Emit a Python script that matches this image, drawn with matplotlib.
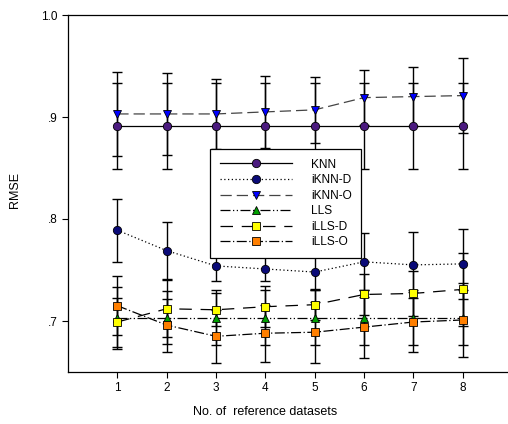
import matplotlib
matplotlib.use("Agg")
import matplotlib.pyplot as plt

plt.rcParams['font.family'] = ['Liberation Sans', 'DejaVu Sans']

x = [1, 2, 3, 4, 5, 6, 7, 8]
labels = ["KNN", "iKNN-D", "iKNN-O", "LLS", "iLLS-D", "iLLS-O"]

knn = [0.891, 0.891, 0.891, 0.891, 0.891, 0.891, 0.891, 0.891]
knn_err = [0.042, 0.042, 0.042, 0.042, 0.042, 0.042, 0.042, 0.042]
iknn_d = [0.789, 0.769, 0.754, 0.751, 0.748, 0.758, 0.755, 0.756]
iknn_d_err = [0.031, 0.028, 0.015, 0.012, 0.018, 0.028, 0.032, 0.034]
iknn_o = [0.903, 0.903, 0.903, 0.905, 0.907, 0.919, 0.920, 0.921]
iknn_o_err = [0.041, 0.040, 0.034, 0.035, 0.032, 0.027, 0.029, 0.037]
lls = [0.703, 0.703, 0.703, 0.703, 0.703, 0.703, 0.703, 0.703]
lls_err = [0.030, 0.026, 0.027, 0.027, 0.027, 0.027, 0.027, 0.027]
ills_d = [0.699, 0.712, 0.711, 0.714, 0.716, 0.726, 0.727, 0.731]
ills_d_err = [0.024, 0.028, 0.016, 0.020, 0.015, 0.020, 0.022, 0.036]
ills_o = [0.715, 0.696, 0.685, 0.688, 0.689, 0.694, 0.699, 0.701]
ills_o_err = [0.029, 0.026, 0.026, 0.028, 0.030, 0.030, 0.029, 0.036]

yticks = [0.7, 0.8, 0.9, 1.0]
yticklabels = [".7", ".8", ".9", "1.0"]

series = [knn, iknn_d, iknn_o, lls, ills_d, ills_o]
errs = [knn_err, iknn_d_err, iknn_o_err, lls_err, ills_d_err, ills_o_err]
markers = ['o', 'o', 'v', '^', 's', 's']
mcolors = ['#4b1a7f', '#0a0a78', '#0000ff', '#00a000', '#ffff00', '#ff7f00']
msizes = [6, 6, 6, 6, 5.5, 5.5]
lstyles = ['-', (0, (1, 2)), (0, (9, 4)), (0, (8, 2, 1, 2, 1, 2)), (0, (10, 7)), (0, (8, 2, 1, 2))]
lcolors = ['black', 'black', '#444444', 'black', 'black', 'black']

fig = plt.figure(figsize=(5.08, 4.24), dpi=100)
ax = fig.add_axes([68/508, 1 - 372/424, (512 - 68)/508, 357/424])

handles = []
for s, e, m, mc, ms, ls, lc, lab in zip(series, errs, markers, mcolors, msizes, lstyles, lcolors, labels):
    ax.errorbar(x, s, yerr=e, fmt='none', ecolor='black', elinewidth=1.0,
                capsize=3.6, capthick=1.0, zorder=2)
    h, = ax.plot(x, s, linestyle=ls, color=lc, linewidth=0.9, marker=m,
                 markerfacecolor=mc, markeredgecolor='black', markeredgewidth=0.6,
                 markersize=ms, label=lab, zorder=3)
    handles.append(h)

ax.set_xlim(0, 9)
ax.set_ylim(0.65, 1.0)
ax.set_xticks(x)
ax.set_xticklabels([str(v) for v in x], fontsize=8.5)
ax.set_yticks(yticks)
ax.set_yticklabels(yticklabels, fontsize=8.5)
ax.tick_params(direction='out', length=4, width=0.8, colors='black')
ax.spines['right'].set_visible(False)
for sp in ['left', 'top', 'bottom']:
    ax.spines[sp].set_linewidth(0.9)

fig.text(15/508, 1 - 190/424, "RMSE", rotation=90, fontsize=9, ha='center', va='center')
fig.text(265/508, 1 - 412/424, "No. of  reference datasets", fontsize=9, ha='center', va='center')

leg = ax.legend(handles=handles, loc='upper left',
                bbox_to_anchor=(210/508, 1 - 149/424), bbox_transform=fig.transFigure,
                fontsize=8.6, frameon=True, fancybox=False, edgecolor='black',
                framealpha=1, handlelength=6.1, labelspacing=0.3, borderpad=0.8,
                handletextpad=1.55, borderaxespad=0)
leg.get_frame().set_linewidth(0.9)

fig.savefig("out.png", dpi=100)
